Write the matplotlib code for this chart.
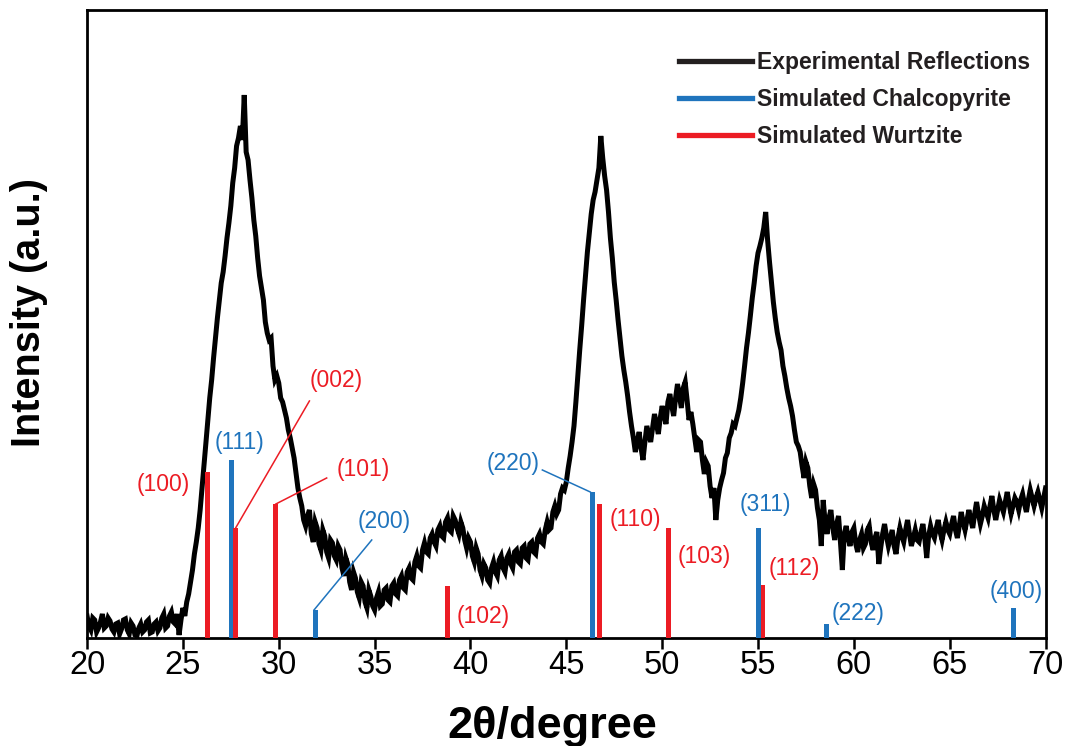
import numpy as np
import matplotlib
matplotlib.use("Agg")
import matplotlib.pyplot as plt
from matplotlib.lines import Line2D

plt.rcParams['font.family'] = ['Liberation Sans', 'DejaVu Sans']

# experimental pattern, 2theta from 20 to 70 in 0.1 deg steps
two_theta_start = 20.0
two_theta_step = 0.1
intensity = [
    22, 12, 8, 20, 18, 6, 10, 16, 24, 10,            # 20
    12, 20, 17, 9, 6, 14, 15, 4, 9, 18,              # 21
    19, 8, 4, 15, 12, 3, 2, 10, 14, 6,               # 22
    8, 16, 18, 5, 6, 14, 16, 7, 10, 20,              # 23
    24, 10, 12, 22, 26, 16, 14, 24, 3, 18,           # 24
    30, 22, 36, 44, 56, 68, 84, 96, 110, 128,        # 25
    150, 172, 195, 218, 240, 258, 280, 300, 320, 338,  # 26
    355, 366, 382, 400, 415, 432, 455, 470, 492, 500,  # 27
    512, 498, 543, 486, 478, 458, 440, 418, 402, 380,  # 28
    362, 350, 338, 316, 305, 298, 300, 272, 258, 262,  # 29
    255, 240, 236, 228, 220, 208, 200, 190, 180, 165,  # 30
    150, 140, 132, 118, 112, 122, 128, 104, 96, 116,   # 31
    110, 94, 88, 108, 102, 86, 80, 98, 95, 82,       # 32
    78, 92, 88, 70, 62, 80, 74, 56, 48, 66,          # 33
    60, 46, 40, 56, 52, 36, 30, 48, 42, 32,          # 34
    28, 40, 46, 32, 34, 48, 50, 38, 36, 52,          # 35
    55, 44, 42, 58, 62, 50, 48, 66, 70, 60,          # 36
    58, 76, 82, 72, 70, 88, 95, 86, 84, 100,         # 37
    104, 96, 92, 108, 112, 102, 100, 116, 120, 108,  # 38
    106, 122, 118, 110, 104, 116, 110, 98, 90, 100,  # 39
    96, 82, 76, 90, 84, 68, 62, 74, 70, 58,          # 40
    55, 70, 76, 66, 62, 78, 82, 70, 66, 80,          # 41
    84, 74, 70, 86, 88, 76, 74, 90, 92, 80,          # 42
    78, 94, 96, 86, 84, 100, 104, 96, 94, 108,       # 43
    116, 108, 110, 126, 132, 124, 128, 144, 150, 148,  # 44
    156, 170, 182, 196, 212, 236, 262, 288, 312, 338,  # 45
    362, 386, 405, 424, 438, 446, 458, 470, 502, 480,  # 46
    462, 448, 426, 400, 380, 356, 338, 318, 300, 282,  # 47
    268, 256, 242, 226, 212, 200, 186, 196, 206, 190,  # 48
    178, 196, 212, 204, 196, 210, 224, 214, 204, 220,  # 49
    232, 222, 214, 236, 244, 232, 222, 240, 254, 242,  # 50
    230, 250, 256, 238, 218, 226, 214, 200, 186, 198,  # 51
    196, 178, 164, 176, 172, 152, 140, 150, 118, 138,  # 52
    150, 158, 165, 180, 185, 200, 205, 214, 212, 220,  # 53
    228, 240, 255, 272, 290, 305, 322, 340, 355, 372,  # 54
    385, 392, 400, 410, 426, 398, 376, 356, 336, 320,  # 55
    306, 296, 288, 272, 262, 250, 240, 232, 222, 208,  # 56
    196, 192, 186, 172, 160, 176, 170, 152, 140, 154,  # 57
    148, 130, 118, 92, 138, 116, 104, 120, 128, 110,   # 58
    98, 114, 122, 96, 68, 104, 112, 100, 92, 106,      # 59
    110, 94, 86, 98, 104, 90, 94, 108, 112, 96,        # 60
    88, 100, 106, 74, 90, 104, 114, 102, 92, 100,      # 61
    108, 92, 84, 100, 110, 102, 96, 108, 118, 104,     # 62
    92, 100, 108, 98, 96, 106, 114, 100, 80, 102,      # 63
    112, 104, 100, 110, 118, 106, 98, 108, 116, 108,   # 64
    104, 114, 122, 108, 100, 112, 126, 116, 108, 118,  # 65
    128, 118, 110, 124, 136, 124, 114, 122, 132, 126,  # 66
    120, 132, 142, 128, 118, 128, 138, 132, 126, 136,  # 67
    146, 134, 124, 132, 140, 136, 128, 138, 144, 134,  # 68
    126, 138, 148, 140, 132, 140, 146, 138, 130, 140,  # 69
    150,
]

# simulated reflections (position, height, label)
chalco_pos = [27.55, 31.94, 46.35, 55.05, 58.56, 68.35]
chalco_height = [178, 28, 146, 110, 14, 30]
chalco_labels = ['(111)', '(200)', '(220)', '(311)', '(222)', '(400)']

wurtz_pos = [26.30, 27.75, 29.85, 38.79, 46.75, 50.35, 55.26]
wurtz_height = [166, 110, 134, 52, 134, 110, 53]
wurtz_labels = ['(100)', '(002)', '(101)', '(102)', '(110)', '(103)', '(112)']

RED = '#ec1c24'
BLUE = '#1f74bd'

theta = two_theta_start + two_theta_step * np.arange(len(intensity))

fig = plt.figure(figsize=(10.68, 7.46), dpi=100)
ax = fig.add_axes([0.0815, 0.1448, 0.8975, 0.8418])

ax.plot(theta, intensity, color='black', lw=3.6, solid_joinstyle='miter', zorder=3)
ax.bar(chalco_pos, chalco_height, width=0.26, color=BLUE, zorder=4)
ax.bar(wurtz_pos, wurtz_height, width=0.26, color=RED, zorder=4)

# peak labels: text position, and leader line end (None = no line)
chalco_text = [(27.93, 195), (35.5, 116), (42.2, 174), (55.4, 133), (60.2, 24), (68.45, 46)]
chalco_lead = [None, (34.85, 98), (43.75, 168), None, None, None]
wurtz_text = [(23.96, 153), (33.0, 257), (34.4, 168), (40.65, 21), (48.6, 118), (52.2, 81), (56.9, 69)]
wurtz_lead = [None, (31.6, 237), (32.5, 160), None, None, None, None]

for pos, h, lab, (tx, ty), lead in zip(chalco_pos, chalco_height, chalco_labels, chalco_text, chalco_lead):
    ax.text(tx, ty, lab, color=BLUE, fontsize=16.5, ha='center', va='center', zorder=5)
    if lead:
        ax.plot([pos - 0.1, lead[0]], [h, lead[1]], color=BLUE, lw=1.1, zorder=5)

for pos, h, lab, (tx, ty), lead in zip(wurtz_pos, wurtz_height, wurtz_labels, wurtz_text, wurtz_lead):
    ax.text(tx, ty, lab, color=RED, fontsize=16.5, ha='center', va='center', zorder=5)
    if lead:
        ax.plot([pos, lead[0]], [h, lead[1]], color=RED, lw=1.1, zorder=5)

ax.set_xlim(20, 70)
ax.set_ylim(0, 628)
ax.set_xticks(np.arange(20, 71, 5))
ax.set_yticks([])
ax.tick_params(axis='x', direction='out', length=8, width=1.8, labelsize=23.5, pad=1)
for s in ax.spines.values():
    s.set_linewidth(2.0)

ax.set_xlabel('2θ/degree', fontsize=32.5, fontweight='bold')
ax.set_ylabel('Intensity (a.u.)', fontsize=28.5, fontweight='bold')
ax.xaxis.set_label_coords(0.485, -0.108)
ax.yaxis.set_label_coords(-0.041, 0.519)

handles = [
    Line2D([], [], color='#231f20', lw=3.8),
    Line2D([], [], color=BLUE, lw=3.8),
    Line2D([], [], color=RED, lw=3.8),
]
names = ['Experimental Reflections', 'Simulated Chalcopyrite', 'Simulated Wurtzite']
leg = ax.legend(handles, names, loc='upper left', bbox_to_anchor=(0.618, 0.935),
                frameon=False, prop={'weight': 'bold', 'size': 16.5},
                handlelength=3.15, handletextpad=0.22, labelspacing=0.62,
                borderpad=0, borderaxespad=0)
for t in leg.get_texts():
    t.set_color('#231f20')

fig.savefig('out.png', dpi=100)
